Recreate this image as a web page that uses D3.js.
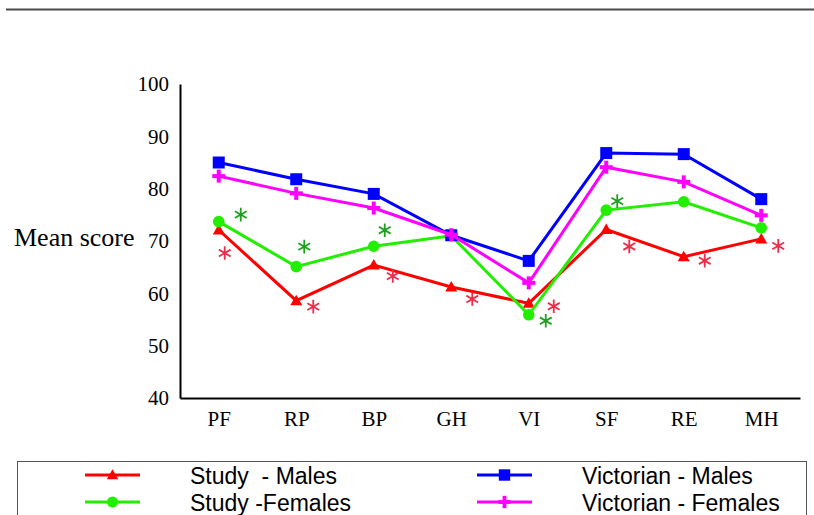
<!DOCTYPE html>
<html><head><meta charset="utf-8">
<script src="https://cdn.jsdelivr.net/npm/d3@7"></script>
<style>body{margin:0;background:#fff}</style></head>
<body>
<svg id="c" width="814" height="515"></svg>
<script>
// ---- data ----
const categories = ["PF","RP","BP","GH","VI","SF","RE","MH"];
const studyMales       = [72.1,58.6,65.4,61.2,58.1,72.2,67.0,70.4];
const studyFemales     = [73.7,65.1,69.0,71.0,55.9,75.9,77.5,72.5];
const victorianMales   = [85.0,81.8,79.0,71.1,66.2,86.8,86.6,78.0];
const victorianFemales = [82.4,79.1,76.3,71.2,62.0,84.1,81.3,74.9];
const yTicks = [40,50,60,70,80,90,100];
const maleSignificant   = [true,true,true,true,true,true,true,true];
const femaleSignificant = [true,true,true,false,true,true,false,false];
const seriesNames = ["Study  - Males","Study -Females","Victorian - Males","Victorian - Females"];

// ---- layout (annotation offsets, px) ----
const maleStarOffset   = [[6,23],[17,6],[19,11],[21,12],[25,3],[23,17],[21,4],[17,7]];
const femaleStarOffset = [[22,-7],[8,-20],[11,-16],[0,0],[17,6],[11,-9],[0,0],[0,0]];

const svg = d3.select("#c");
const x = d3.scalePoint().domain(categories).range([180,800]).padding(0.5);
const y = d3.scaleLinear().domain([40,100]).range([398,84]);

// top rule
svg.append("line").attr("x1",6).attr("x2",814).attr("y1",9.5).attr("y2",9.5)
  .attr("stroke","#4a4a4a").attr("stroke-width",2);

// axes
const ya = svg.append("g").attr("transform","translate(180,0)")
  .call(d3.axisLeft(y).tickValues(yTicks).tickSize(0).tickSizeOuter(0).tickPadding(11));
ya.select(".domain").attr("stroke","#000").attr("stroke-width",2);
ya.selectAll("text").attr("font-family","Liberation Serif").attr("font-size",21).attr("fill","#000");

const xa = svg.append("g").attr("transform","translate(0,398)")
  .call(d3.axisBottom(x).tickSize(0).tickSizeOuter(0).tickPadding(13));
xa.select(".domain").attr("stroke","#000").attr("stroke-width",2);
xa.selectAll("text").attr("font-family","Liberation Serif").attr("font-size",21).attr("fill","#000");

svg.append("text").attr("x",14).attr("y",246).attr("font-family","Liberation Serif")
  .attr("font-size",26).text("Mean score");

// markers
function marker(g, type, color, cx, cy, s) {
  s = s || 1;
  if (type === "triangle") {
    g.append("path").attr("d", `M${cx},${cy-6*s}L${cx+6*s},${cy+4.5*s}L${cx-6*s},${cy+4.5*s}Z`).attr("fill",color);
  } else if (type === "circle") {
    g.append("circle").attr("cx",cx).attr("cy",cy).attr("r",5.8*s).attr("fill",color);
  } else if (type === "square") {
    g.append("rect").attr("x",cx-6*s).attr("y",cy-6*s).attr("width",12*s).attr("height",12*s).attr("fill",color);
  } else if (type === "plus") {
    g.append("rect").attr("x",cx-6.5*s).attr("y",cy-2*s).attr("width",13*s).attr("height",4*s).attr("fill",color);
    g.append("rect").attr("x",cx-2*s).attr("y",cy-6.5*s).attr("width",4*s).attr("height",13*s).attr("fill",color);
  }
}

const series = [
  {vals: studyMales, color:"#ff0000", type:"triangle"},
  {vals: studyFemales, color:"#22ee00", type:"circle"},
  {vals: victorianMales, color:"#0000ff", type:"square"},
  {vals: victorianFemales, color:"#ff00ff", type:"plus"}
];
const line = d3.line().x((d,i)=>x(categories[i])).y(d=>y(d));
series.forEach(s => {
  const g = svg.append("g");
  g.append("path").attr("d", line(s.vals)).attr("fill","none").attr("stroke",s.color).attr("stroke-width",3);
  s.vals.forEach((v,i)=> marker(g, s.type, s.color, x(categories[i]), y(v)));
});

// significance asterisks
function star(cx, cy, color) {
  const r = 6.8, t = r/2, u = t*Math.sqrt(3);
  const p = d3.path();
  p.moveTo(cx, cy-r); p.lineTo(cx, cy+r);
  p.moveTo(cx-u, cy-t); p.lineTo(cx+u, cy+t);
  p.moveTo(cx-u, cy+t); p.lineTo(cx+u, cy-t);
  svg.append("path").attr("d", p.toString()).attr("stroke",color).attr("stroke-width",1.8).attr("fill","none");
}
maleSignificant.forEach((f,i)=>{ if(f) star(x(categories[i])+maleStarOffset[i][0], y(studyMales[i])+maleStarOffset[i][1], "#ee2c4a"); });
femaleSignificant.forEach((f,i)=>{ if(f) star(x(categories[i])+femaleStarOffset[i][0], y(studyFemales[i])+femaleStarOffset[i][1], "#1ea01e"); });

// legend
svg.append("rect").attr("x",17.5).attr("y",461.5).attr("width",789).attr("height",70)
  .attr("fill","none").attr("stroke","#555").attr("stroke-width",1);
const legPos = [[85,475],[85,502],[477,475],[477,502]];
series.forEach((s,i)=>{
  const [lx,ly] = legPos[i];
  const g = svg.append("g");
  g.append("line").attr("x1",lx).attr("x2",lx+55).attr("y1",ly).attr("y2",ly).attr("stroke",s.color).attr("stroke-width",3);
  marker(g, s.type, s.color, lx+27.5, ly, 0.95);
  g.append("text").attr("x",lx+105).attr("y",ly+9).attr("font-family","Liberation Sans").attr("font-size",23)
    .attr("fill","#000").style("white-space","pre").text(seriesNames[i]);
});
</script>
</body></html>
